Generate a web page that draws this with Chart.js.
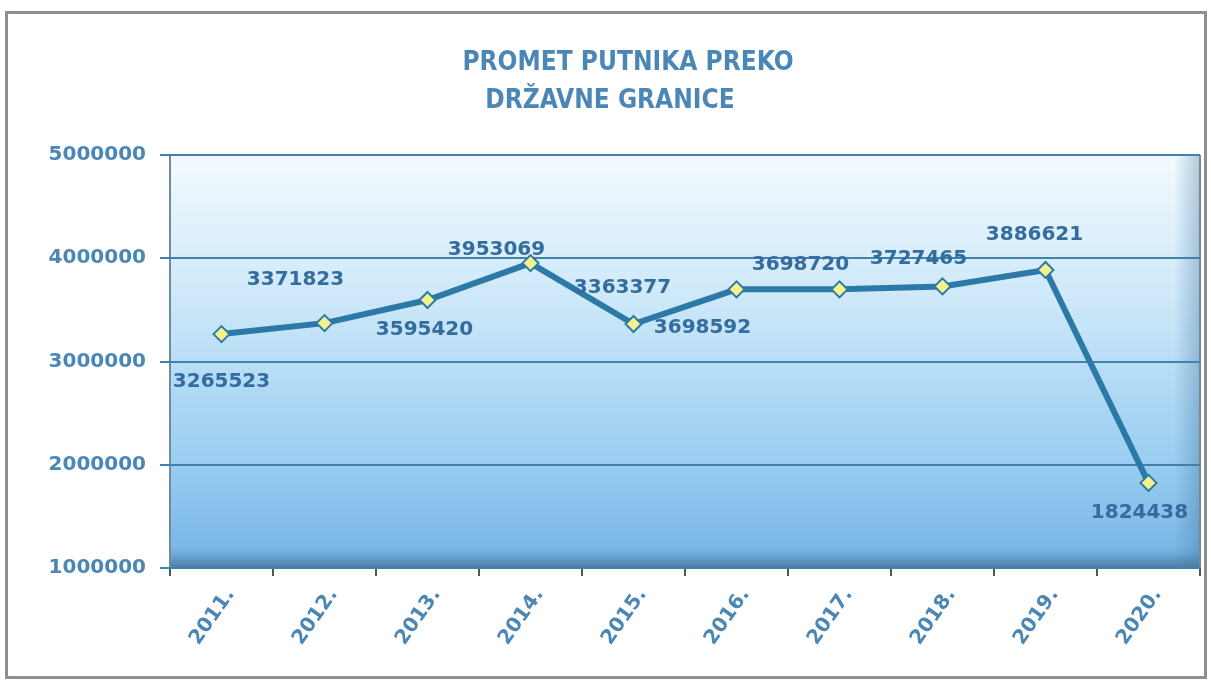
<!DOCTYPE html>
<html>
<head>
<meta charset="utf-8">
<script src="https://cdn.jsdelivr.net/npm/chart.js@4"></script>
<style>
  html, body { margin: 0; padding: 0; background: #fff; }
  #wrap { position: relative; width: 1211px; height: 683px; }
  #frame { position: absolute; left: 5px; top: 11px; width: 1196px; height: 662px;
           border: 3px solid #8c8f8f; box-sizing: content-box; pointer-events: none; }
</style>
</head>
<body>
<div id="wrap">
  <canvas id="passengerChart" width="1211" height="683"></canvas>
  <div id="frame"></div>
</div>
<script>
// passengers crossing the state border, per year
const years = ['2011.', '2012.', '2013.', '2014.', '2015.', '2016.', '2017.', '2018.', '2019.', '2020.'];
const passengers = [3265523, 3371823, 3595420, 3953069, 3363377, 3698592, 3698720, 3727465, 3886621, 1824438];
const yTicks = [1000000, 2000000, 3000000, 4000000, 5000000];
const titleLines = ['PROMET PUTNIKA PREKO', 'DRŽAVNE GRANICE'];

const blue = '#4a86b6';
const labelBlue = '#356c9f';
const lineBlue = '#2c79a8';

// where each value label sits relative to its marker (dx, dy)
const labelShift = [[0, 48], [-29, -43], [-3, 30], [-34, -13], [-11, -36],
                    [-34, 38], [-39, -25], [-24, -28], [-11, -35], [-9, 30]];

// title is drawn by hand: the two lines are not centred on the same x in the original
const titlePlugin = {
  id: 'twoLineTitle',
  afterDraw(chart) {
    const { ctx } = chart;
    ctx.save();
    ctx.font = 'bold 26px "DejaVu Sans Condensed", "DejaVu Sans"';
    ctx.fillStyle = blue;
    ctx.textAlign = 'center';
    ctx.textBaseline = 'middle';
    ctx.fillText(titleLines[0], 628, 63);
    ctx.fillText(titleLines[1], 610, 101);
    ctx.restore();
  }
};

// gradient back wall, imitating the 3D excel look
const wallPlugin = {
  id: 'wall',
  beforeDraw(chart) {
    const { ctx, chartArea: a } = chart;
    ctx.save();
    const g = ctx.createLinearGradient(0, a.top, 0, a.bottom);
    g.addColorStop(0, '#f2fafe');
    g.addColorStop(0.35, '#cde8f9');
    g.addColorStop(0.75, '#99cdf1');
    g.addColorStop(0.95, '#7ab8e7');
    g.addColorStop(1, '#5a90b8');
    ctx.fillStyle = g;
    ctx.fillRect(a.left, a.top, a.right - a.left, a.bottom - a.top);
    // darker right side
    const r = ctx.createLinearGradient(a.right - 26, 0, a.right, 0);
    r.addColorStop(0, 'rgba(60,110,150,0)');
    r.addColorStop(1, 'rgba(60,110,150,0.35)');
    ctx.fillStyle = r;
    ctx.fillRect(a.right - 26, a.top, 26, a.bottom - a.top);
    // bottom floor edge
    const b = ctx.createLinearGradient(0, a.bottom - 14, 0, a.bottom);
    b.addColorStop(0, 'rgba(50,100,140,0)');
    b.addColorStop(1, 'rgba(50,100,140,0.35)');
    ctx.fillStyle = b;
    ctx.fillRect(a.left, a.bottom - 14, a.right - a.left, 14);
    ctx.strokeStyle = '#6f8c9c';
    ctx.lineWidth = 2;
    ctx.beginPath();
    ctx.moveTo(a.left, a.top);
    ctx.lineTo(a.left, a.bottom);
    ctx.lineTo(a.right, a.bottom);
    ctx.lineTo(a.right, a.top);
    ctx.stroke();
    ctx.restore();
  }
};

const valueLabels = {
  id: 'valueLabels',
  afterDatasetsDraw(chart) {
    const { ctx } = chart;
    const meta = chart.getDatasetMeta(0);
    ctx.save();
    ctx.font = 'bold 20px "DejaVu Sans"';
    ctx.fillStyle = labelBlue;
    ctx.textAlign = 'center';
    ctx.textBaseline = 'middle';
    meta.data.forEach((pt, i) => {
      const [dx, dy] = labelShift[i];
      ctx.fillText(String(passengers[i]), pt.x + dx, pt.y + dy);
    });
    ctx.restore();
  }
};

const ctx = document.getElementById('passengerChart').getContext('2d');
const passengerChart = new Chart(ctx, {
  type: 'line',
  data: {
    labels: years,
    datasets: [{
      data: passengers,
      borderColor: lineBlue,
      borderWidth: 6,
      tension: 0,
      pointStyle: 'rectRot',
      pointRadius: 8,
      pointBackgroundColor: '#f4f28c',
      pointBorderColor: lineBlue,
      pointBorderWidth: 2,
      fill: false
    }]
  },
  options: {
    responsive: false,
    animation: false,
    layout: { padding: { left: 0, right: 11, top: 155, bottom: 0 } },
    plugins: {
      legend: { display: false },
      tooltip: { enabled: false },
      title: { display: false }
    },
    scales: {
      x: {
        offset: true,
        grid: { display: true, offset: true, drawOnChartArea: false, tickLength: 8, color: '#555', lineWidth: 2 },
        border: { display: false },
        ticks: {
          color: blue,
          font: { family: '"DejaVu Sans"', size: 20, weight: 'bold' },
          minRotation: 55,
          maxRotation: 55,
          padding: 8,
          labelOffset: 9
        },
        afterFit(scale) { scale.height = 115; }
      },
      y: {
        min: 1000000,
        max: 5000000,
        afterBuildTicks(scale) { scale.ticks = yTicks.map(v => ({ value: v })); },
        grid: { color: '#3f82ad', lineWidth: 2, tickLength: 10 },
        border: { display: false },
        ticks: {
          color: blue,
          font: { family: '"DejaVu Sans"', size: 20, weight: 'bold' },
          padding: 14,
          callback: v => String(v)
        },
        afterFit(scale) { scale.width = 170; }
      }
    }
  },
  plugins: [wallPlugin, valueLabels, titlePlugin]
});
</script>
</body>
</html>
